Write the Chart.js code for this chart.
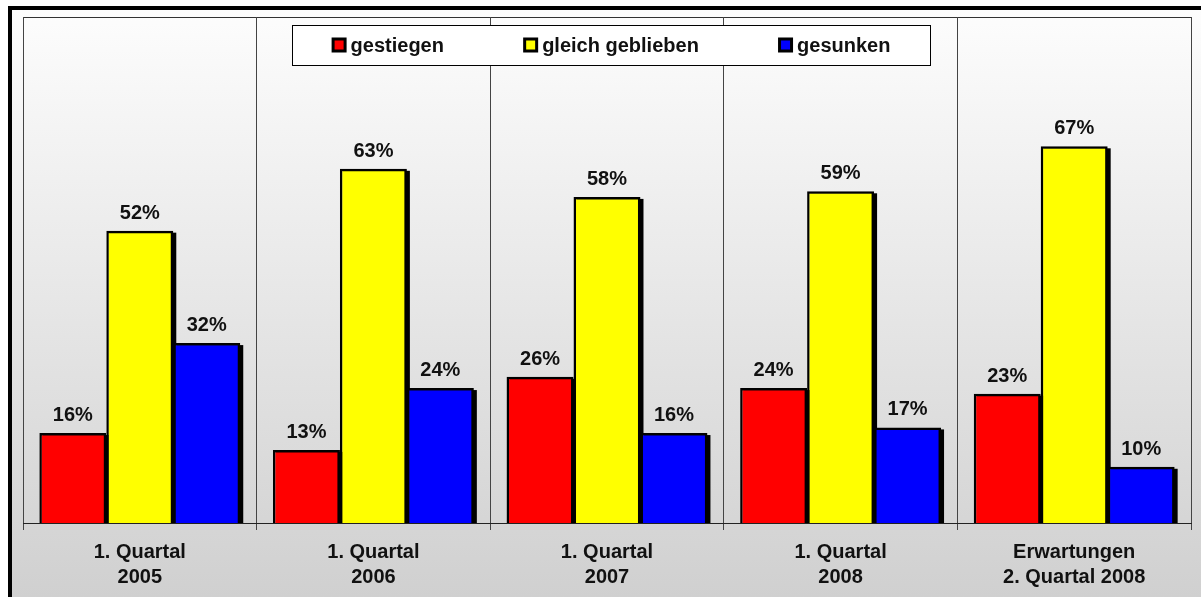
<!DOCTYPE html>
<html>
<head>
<meta charset="utf-8">
<script src="https://cdn.jsdelivr.net/npm/chart.js@4.4.1/dist/chart.umd.min.js"></script>
<style>
  body { margin: 0; background: #fff; }
  canvas { display: block; }
</style>
</head>
<body>
<canvas id="barChart" width="1201" height="597"></canvas>
<script>
// data
let categories = [
    ['1. Quartal', '2005'],
    ['1. Quartal', '2006'],
    ['1. Quartal', '2007'],
    ['1. Quartal', '2008'],
    ['Erwartungen', '2. Quartal 2008']
];
let seriesNames = ['gestiegen', 'gleich geblieben', 'gesunken'];
let gestiegen = [16, 13, 26, 24, 23];
let gleichGeblieben = [52, 63, 58, 59, 67];
let gesunken = [32, 24, 16, 17, 10];

let COLORS = ['#ff0000', '#ffff00', '#0000ff'];
let FONT = '"Liberation Sans", Arial, sans-serif';

// background gradient, black outer frame, plot area frame
let backgroundPlugin = {
    id: 'background',
    beforeDraw: function (chart) {
        let ctx = chart.ctx;
        let area = chart.chartArea;
        ctx.save();
        let grad = ctx.createLinearGradient(0, 10, 0, chart.height);
        grad.addColorStop(0, '#fdfdfd');
        grad.addColorStop(1, '#d0d0d0');
        ctx.fillStyle = grad;
        ctx.fillRect(0, 0, chart.width, chart.height);
        ctx.fillStyle = '#ffffff';
        ctx.fillRect(0, 0, chart.width, 6);
        ctx.fillRect(0, 0, 8, chart.height);
        ctx.strokeStyle = '#000';
        ctx.lineWidth = 4;
        ctx.strokeRect(10, 8, chart.width + 20, chart.height + 20);
        ctx.lineWidth = 1;
        ctx.strokeStyle = '#333';
        ctx.strokeRect(area.left + 0.5, area.top + 0.5, area.right - area.left, area.bottom - area.top);
        ctx.restore();
    }
};

// drop shadow on the bars (bar elements clip themselves, so draw it underneath)
let shadowPlugin = {
    id: 'barShadow',
    beforeDatasetsDraw: function (chart) {
        let ctx = chart.ctx;
        let area = chart.chartArea;
        ctx.save();
        ctx.fillStyle = '#000';
        chart.data.datasets.forEach(function (ds, i) {
            chart.getDatasetMeta(i).data.forEach(function (bar) {
                let left = bar.x - bar.width / 2;
                ctx.fillRect(left + 3, bar.y + 2, bar.width, area.bottom - bar.y - 2);
            });
        });
        ctx.restore();
    }
};

// percent labels above each bar
let valueLabelPlugin = {
    id: 'valueLabels',
    afterDatasetsDraw: function (chart) {
        let ctx = chart.ctx;
        ctx.save();
        ctx.font = 'bold 20px ' + FONT;
        ctx.fillStyle = '#111';
        ctx.textAlign = 'center';
        ctx.textBaseline = 'alphabetic';
        chart.data.datasets.forEach(function (ds, i) {
            chart.getDatasetMeta(i).data.forEach(function (bar, j) {
                ctx.fillText(ds.data[j] + '%', bar.x, bar.y - 12);
            });
        });
        ctx.restore();
    }
};

// boxed legend inside the plot area
let legendBoxPlugin = {
    id: 'legendBox',
    afterDraw: function (chart) {
        let ctx = chart.ctx;
        let area = chart.chartArea;
        let boxW = 638, boxH = 40;
        let boxX = Math.round((area.left + area.right) / 2 - boxW / 2 + 4);
        let boxY = 25;
        ctx.save();
        ctx.fillStyle = '#fff';
        ctx.fillRect(boxX, boxY, boxW, boxH);
        ctx.strokeStyle = '#000';
        ctx.lineWidth = 1;
        ctx.strokeRect(boxX + 0.5, boxY + 0.5, boxW, boxH);

        ctx.font = 'bold 20px ' + FONT;
        let sq = 15, gapTxt = 4;
        let widths = chart.data.datasets.map(function (ds) {
            return sq + gapTxt + ctx.measureText(ds.label).width;
        });
        let total = widths.reduce(function (a, b) { return a + b; }, 0);
        let gap = (boxW - total) / widths.length;
        let x = boxX + gap / 2;
        let cy = boxY + boxH / 2 + 1;
        ctx.textBaseline = 'middle';
        ctx.textAlign = 'left';
        chart.data.datasets.forEach(function (ds, i) {
            ctx.fillStyle = '#000';
            ctx.fillRect(x, cy - sq / 2 - 1, sq, sq);
            ctx.fillStyle = ds.backgroundColor;
            ctx.fillRect(x + 3, cy - sq / 2 + 2, sq - 6, sq - 6);
            ctx.fillStyle = '#111';
            ctx.fillText(ds.label, x + sq + gapTxt, cy);
            x += widths[i] + gap;
        });
        ctx.restore();
    }
};

let barCanvas = document.getElementById('barChart').getContext('2d');
let barData = {
    labels: categories,
    datasets: [
        { label: seriesNames[0], data: gestiegen, backgroundColor: COLORS[0] },
        { label: seriesNames[1], data: gleichGeblieben, backgroundColor: COLORS[1] },
        { label: seriesNames[2], data: gesunken, backgroundColor: COLORS[2] }
    ].map(function (ds) {
        ds.borderColor = '#000';
        ds.borderWidth = 2.5;
        ds.categoryPercentage = 0.86;
        ds.barPercentage = 1.0;
        return ds;
    })
};

let barChart = new Chart(barCanvas, {
    type: 'bar',
    data: barData,
    options: {
        responsive: false,
        animation: false,
        devicePixelRatio: 1,
        layout: { padding: { left: 23, right: 10, top: 17, bottom: 0 } },
        plugins: {
            legend: { display: false },
            tooltip: { enabled: false }
        },
        scales: {
            x: {
                afterFit: function (scale) { scale.height = 74; },
                grid: {
                    offset: true,
                    color: '#444',
                    lineWidth: 1,
                    drawTicks: true,
                    tickLength: 7,
                    tickColor: '#444'
                },
                border: { display: true, color: '#222', width: 1 },
                ticks: {
                    color: '#111',
                    padding: 10,
                    maxRotation: 0,
                    autoSkip: false,
                    font: { family: FONT, size: 20, weight: 'bold', lineHeight: 1.25 }
                }
            },
            y: {
                display: false,
                min: 0,
                max: 90
            }
        }
    },
    plugins: [backgroundPlugin, shadowPlugin, valueLabelPlugin, legendBoxPlugin]
});
</script>
</body>
</html>
